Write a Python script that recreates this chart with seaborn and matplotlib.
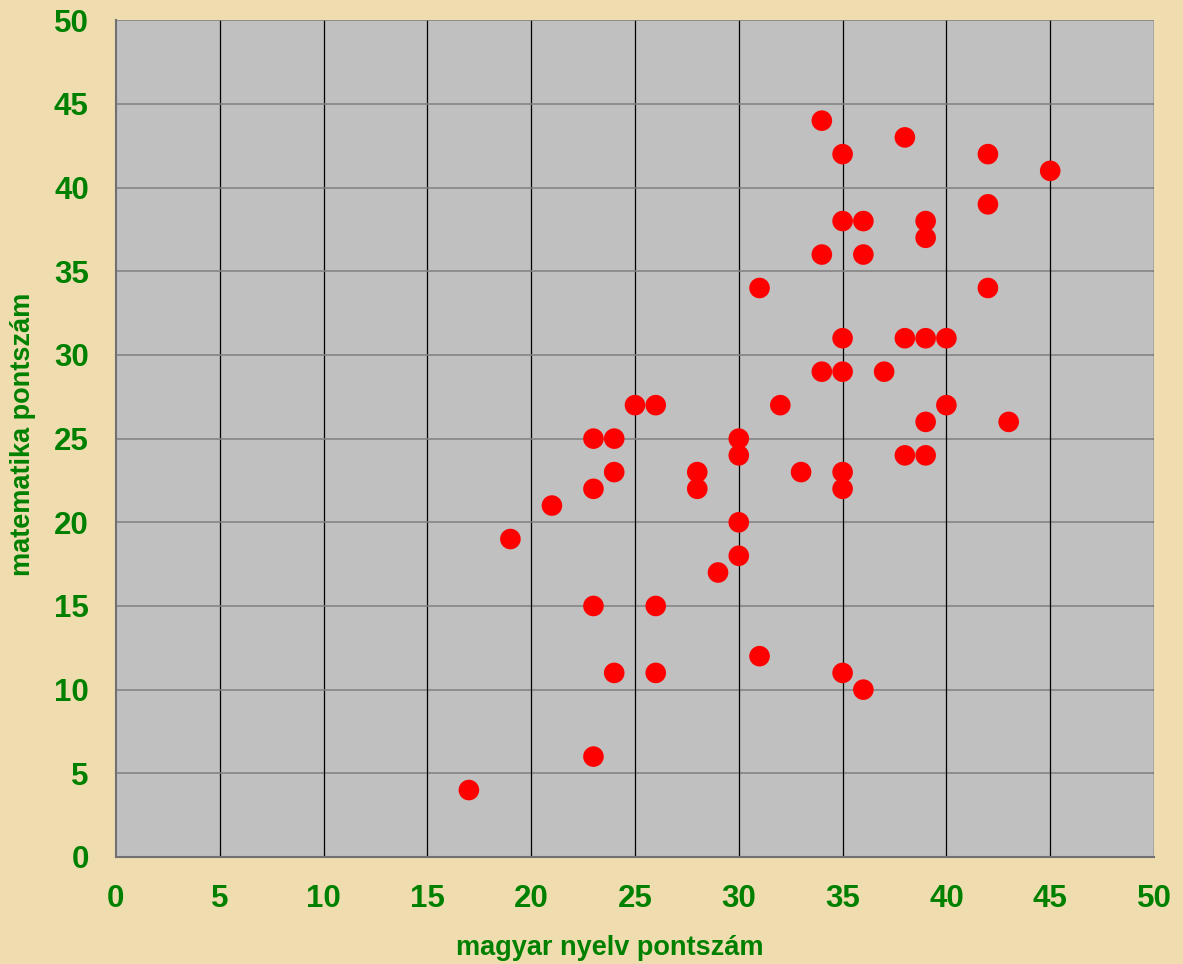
import matplotlib
matplotlib.use("Agg")
import matplotlib.pyplot as plt
import seaborn as sns
import pandas as pd

magyar = [34, 38, 35, 42, 45, 42, 35, 36, 39, 39, 34, 36, 31, 42, 35, 38, 39, 40,
          34, 35, 37, 25, 26, 32, 40, 39, 43, 23, 24, 30, 30, 38, 39, 24, 28, 33,
          35, 23, 28, 35, 21, 30, 19, 30, 29, 23, 26, 31, 24, 26, 35, 36, 23, 17]
matek = [44, 43, 42, 42, 41, 39, 38, 38, 38, 37, 36, 36, 34, 34, 31, 31, 31, 31,
         29, 29, 29, 27, 27, 27, 27, 26, 26, 25, 25, 25, 24, 24, 24, 23, 23, 23,
         23, 22, 22, 22, 21, 20, 19, 18, 17, 15, 15, 12, 11, 11, 11, 10, 6, 4]
ticks = [0, 5, 10, 15, 20, 25, 30, 35, 40, 45, 50]

df = pd.DataFrame({"magyar nyelv pontszám": magyar, "matematika pontszám": matek})

sns.set_style("white")
plt.rcParams['font.family'] = ['Liberation Sans', 'DejaVu Sans']

fig = plt.figure(figsize=(11.83, 9.64), dpi=100)
fig.patch.set_facecolor('#EFDDB0')
ax = fig.add_axes([0.098, 0.111, 0.8775, 0.868])
ax.set_facecolor('#C0C0C0')

sns.scatterplot(data=df, x="magyar nyelv pontszám", y="matematika pontszám",
                ax=ax, color='#FF0000', s=220, edgecolor='none', zorder=3)

ax.set_xlim(0, 50)
ax.set_ylim(0, 50)
ax.set_xticks(ticks)
ax.set_yticks(ticks)
for t in ticks:
    if t > 0:
        ax.axvline(t, color='black', lw=0.9, zorder=1)
        ax.axhline(t, color='#808080', lw=1.1, zorder=1)

for s in ['top', 'right']:
    ax.spines[s].set_visible(False)
for s in ['left', 'bottom']:
    ax.spines[s].set_color('#707070')
    ax.spines[s].set_linewidth(1.5)

ax.tick_params(axis='both', direction='out', length=7, width=1.1, color='#606060',
               labelsize=22.5, labelcolor='#008000', pad=12.5)
for lab in ax.get_xticklabels() + ax.get_yticklabels():
    lab.set_fontweight('bold')

ax.set_xlabel("magyar nyelv pontszám", fontsize=19.5, fontweight='bold', color='#008000')
ax.set_ylabel("matematika pontszám", fontsize=19.5, fontweight='bold', color='#008000')
ax.xaxis.set_label_coords(0.476, -0.093)
ax.yaxis.set_label_coords(-0.077, 0.505)

fig.savefig("out.png", dpi=100, facecolor=fig.get_facecolor())
